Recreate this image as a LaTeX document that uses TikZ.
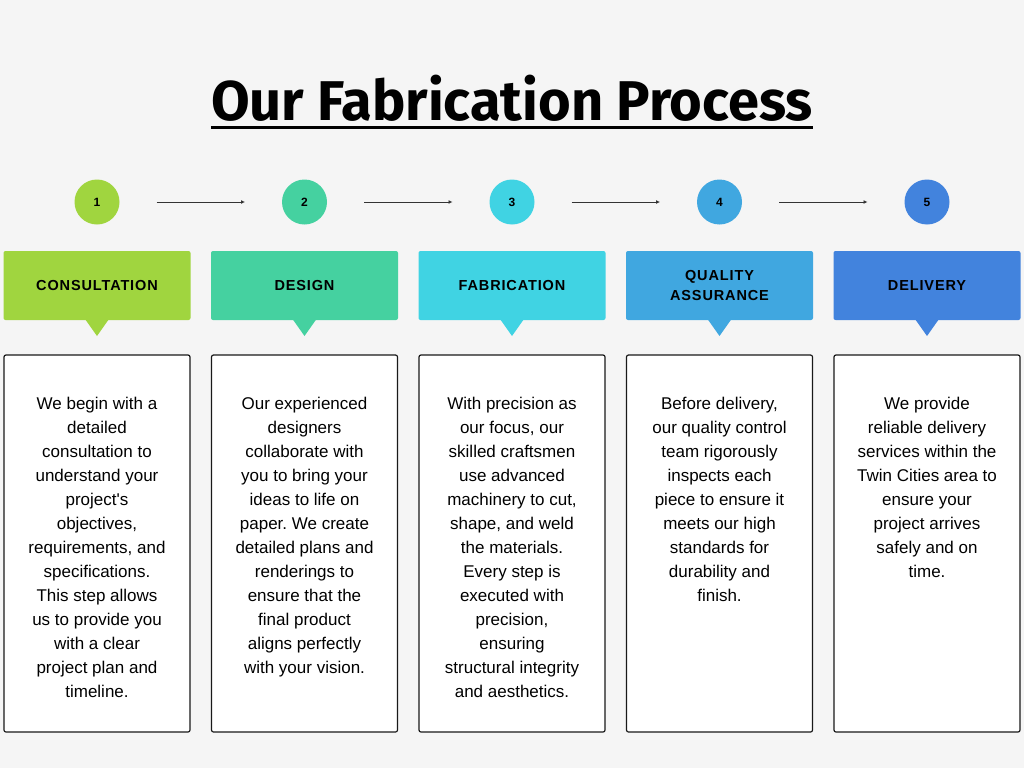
\documentclass[tikz,border=0pt]{standalone}
\usepackage{fontspec}
\setmainfont{Liberation Sans}
\newfontfamily\titlefont{Fira Sans}
\newfontfamily\headfont{Liberation Sans}[LetterSpace=6]
\usetikzlibrary{positioning}
\usetikzlibrary{arrows.meta}
\frenchspacing

\definecolor{bgcol}{HTML}{F5F5F5}
\definecolor{stepA}{HTML}{A0D53F}
\definecolor{stepB}{HTML}{45D1A0}
\definecolor{stepC}{HTML}{40D3E3}
\definecolor{stepD}{HTML}{40A7E0}
\definecolor{stepE}{HTML}{4283DD}

\begin{document}
\begin{tikzpicture}[x=1pt,y=-1pt]
            \tikzstyle{head_node}=[rectangle, rounded corners=2pt, minimum width=187pt, minimum height=69pt, inner sep=0pt, outer sep=0pt, align=center, font=\headfont\bfseries\fontsize{14.5}{20}\selectfont];
            \tikzstyle{num_node}=[circle, minimum size=45pt, inner sep=0pt, outer sep=0pt, font=\bfseries\fontsize{12}{12}\selectfont];
            \tikzstyle{desc_node}=[rectangle, draw=black!90, line width=1.2pt, rounded corners=2pt, fill=white, minimum width=186pt, minimum height=377pt, outer sep=0pt];
            \tikzstyle{desc_text}=[align=center, inner sep=0pt, anchor=north, font=\fontsize{17}{24}\selectfont];

            % background
            \fill[bgcol] (0,0) rectangle (1024,768);

            % Title
            \node(title) [inner sep=0pt, anchor=base] at (512,120) {\titlefont\bfseries\fontsize{56}{60}\selectfont Our Fabrication Process};
            \draw[line width=3pt] ([yshift=-7pt]title.base west) -- ([yshift=-7pt]title.base east);

            % Headers
            \node(head_a) [head_node, fill=stepA] at (97,285.5) {CONSULTATION};
            \node(head_b) [head_node, fill=stepB, right = 20.5pt of head_a] {DESIGN};
            \node(head_c) [head_node, fill=stepC, right = 20.5pt of head_b] {FABRICATION};
            \node(head_d) [head_node, fill=stepD, right = 20.5pt of head_c] {QUALITY\\ASSURANCE};
            \node(head_e) [head_node, fill=stepE, right = 20.5pt of head_d] {DELIVERY};

            % Pointers
            \fill[stepA] ([xshift=-12pt,yshift=1pt]head_a.south) -- ([xshift=12pt,yshift=1pt]head_a.south) -- ([yshift=-16pt]head_a.south) -- cycle;
            \fill[stepB] ([xshift=-12pt,yshift=1pt]head_b.south) -- ([xshift=12pt,yshift=1pt]head_b.south) -- ([yshift=-16pt]head_b.south) -- cycle;
            \fill[stepC] ([xshift=-12pt,yshift=1pt]head_c.south) -- ([xshift=12pt,yshift=1pt]head_c.south) -- ([yshift=-16pt]head_c.south) -- cycle;
            \fill[stepD] ([xshift=-12pt,yshift=1pt]head_d.south) -- ([xshift=12pt,yshift=1pt]head_d.south) -- ([yshift=-16pt]head_d.south) -- cycle;
            \fill[stepE] ([xshift=-12pt,yshift=1pt]head_e.south) -- ([xshift=12pt,yshift=1pt]head_e.south) -- ([yshift=-16pt]head_e.south) -- cycle;

            % Numbers
            \node(num_a) [num_node, fill=stepA, above = 26.5pt of head_a] {1};
            \node(num_b) [num_node, fill=stepB, above = 26.5pt of head_b] {2};
            \node(num_c) [num_node, fill=stepC, above = 26.5pt of head_c] {3};
            \node(num_d) [num_node, fill=stepD, above = 26.5pt of head_d] {4};
            \node(num_e) [num_node, fill=stepE, above = 26.5pt of head_e] {5};

            \tikzstyle{arrow}=[-{Latex[length=4pt,width=4pt]}, line width=0.8pt, draw=black!80, shorten <=37pt, shorten >=37pt];
            \draw[arrow] (num_a) -- (num_b);
            \draw[arrow] (num_b) -- (num_c);
            \draw[arrow] (num_c) -- (num_d);
            \draw[arrow] (num_d) -- (num_e);

            % Descriptions
            \node(desc_a) [desc_node, below = 35pt of head_a] {};
            \node(desc_b) [desc_node, below = 35pt of head_b] {};
            \node(desc_c) [desc_node, below = 35pt of head_c] {};
            \node(desc_d) [desc_node, below = 35pt of head_d] {};
            \node(desc_e) [desc_node, below = 35pt of head_e] {};

            \node(text_a) [desc_text] at ([yshift=-41.5pt]desc_a.north) {We begin with a\\detailed\\consultation to\\understand your\\project\textquotesingle s\\objectives,\\requirements, and\\specifications.\\This step allows\\us to provide you\\with a clear\\project plan and\\timeline.};
            \node(text_b) [desc_text] at ([yshift=-41.5pt]desc_b.north) {Our experienced\\designers\\collaborate with\\you to bring your\\ideas to life on\\paper. We create\\detailed plans and\\renderings to\\ensure that the\\final product\\aligns perfectly\\with your vision.};
            \node(text_c) [desc_text] at ([yshift=-41.5pt]desc_c.north) {With precision as\\our focus, our\\skilled craftsmen\\use advanced\\machinery to cut,\\shape, and weld\\the materials.\\Every step is\\executed with\\precision,\\ensuring\\structural integrity\\and aesthetics.};
            \node(text_d) [desc_text] at ([yshift=-41.5pt]desc_d.north) {Before delivery,\\our quality control\\team rigorously\\inspects each\\piece to ensure it\\meets our high\\standards for\\durability and\\finish.};
            \node(text_e) [desc_text] at ([yshift=-41.5pt]desc_e.north) {We provide\\reliable delivery\\services within the\\Twin Cities area to\\ensure your\\project arrives\\safely and on\\time.};
\end{tikzpicture}
\end{document}
